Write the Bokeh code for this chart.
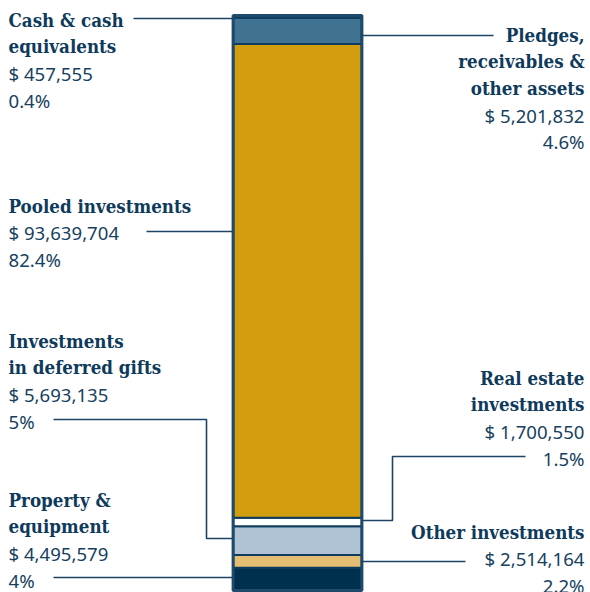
from bokeh.plotting import figure
from bokeh.models import Range1d, ColumnDataSource
from bokeh.core.properties import value
from bokeh.embed import file_html
from bokeh.resources import INLINE

# ---- data (stack order from bottom to top) ----
categories = ["Property & equipment", "Other investments", "Investments in deferred gifts",
              "Real estate investments", "Pooled investments",
              "Pledges, receivables & other assets", "Cash & cash equivalents"]
amounts = [4495579, 2514164, 5693135, 1700550, 93639704, 5201832, 457555]
percent_labels = ["4%", "2.2%", "5%", "1.5%", "82.4%", "4.6%", "0.4%"]
amount_labels = ["$ 4,495,579", "$ 2,514,164", "$ 5,693,135", "$ 1,700,550",
                 "$ 93,639,704", "$ 5,201,832", "$ 457,555"]
title_lines = [["Property &", "equipment"], ["Other investments"],
               ["Investments", "in deferred gifts"], ["Real estate", "investments"],
               ["Pooled investments"], ["Pledges,", "receivables &", "other assets"],
               ["Cash & cash", "equivalents"]]
colors = ["#00304f", "#e4be72", "#b0c3d5", "#ffffff", "#d29d0e", "#3f7391", "#f1e7cd"]

# ---- layout (in reference-pixel layout units) ----
NAVY = "#0e3a5b"
LINE = "#1d4464"
BAR_L, BAR_R = 233, 361
BAR_TOP_PX, BAR_BOT_PX = 15, 590
Y_TOP, Y_BOT = 0, 592

total = float(sum(amounts))
span = BAR_BOT_PX - BAR_TOP_PX
val_start = -(Y_BOT - BAR_BOT_PX) / span * total
val_end = (BAR_BOT_PX - Y_TOP) / span * total

p = figure(width=590, height=592, output_backend="svg", toolbar_location=None,
           x_range=Range1d(0, 590), y_range=Range1d(Y_BOT, Y_TOP),
           min_border=0, outline_line_color=None)
p.axis.visible = False
p.grid.visible = False
p.extra_y_ranges = {"val": Range1d(val_start, val_end)}

bottoms, tops = [], []
acc = 0.0
for a in amounts:
    bottoms.append(acc)
    acc += a
    tops.append(acc)

src = ColumnDataSource(dict(bottom=bottoms, top=tops, color=colors,
                            left=[BAR_L] * len(amounts), right=[BAR_R] * len(amounts)))
p.quad(left="left", right="right", bottom="bottom", top="top", fill_color="color",
       line_color="#0f3c5e", line_width=2.0, source=src, y_range_name="val")
p.quad(left=[BAR_L - 0.5], right=[BAR_R + 0.5], bottom=[0], top=[total], fill_color=None,
       line_color="#1f4a6c", line_width=2.8, y_range_name="val")

# ---- leader lines ----
leaders_x = [[133, BAR_L], [BAR_R, 493], [146, BAR_L],
             [53, 206, 206, BAR_L], [525, 392, 392, BAR_R],
             [BAR_R, 465], [53, BAR_L]]
leaders_y = [[18, 18], [35, 35], [231, 231],
             [419, 419, 538, 538], [456, 456, 520, 520],
             [561, 561], [577, 577]]
p.multi_line(xs=leaders_x, ys=leaders_y, line_color=LINE, line_width=1.6)

# ---- labels ----
# (index into data, x, align, baseline of first line)
label_pos = {6: (8, "left", 25), 4: (8, "left", 211), 2: (8, "left", 346), 0: (8, "left", 505),
             5: (584, "right", 40), 3: (584, "right", 383), 1: (584, "right", 537)}
LINE_H = 26.7
SHIFT = -5.5

bx, by, bt, ba = [], [], [], []
rx, ry, rt, ra = [], [], [], []
for i, (x, align, y0) in label_pos.items():
    y = y0 + SHIFT
    for t in title_lines[i]:
        bx.append(x); by.append(y); bt.append(t); ba.append(align)
        y += LINE_H
    for t in (amount_labels[i], percent_labels[i]):
        rx.append(x); ry.append(y); rt.append(t); ra.append(align)
        y += LINE_H

p.text(x="x", y="y", text="text", text_align="align",
       source=ColumnDataSource(dict(x=bx, y=by, text=bt, align=ba)),
       text_font=value("DejaVu Serif Condensed"), text_font_style="bold",
       text_font_size="18.6px", text_color=NAVY, text_baseline="alphabetic")
p.text(x="x", y="y", text="text", text_align="align",
       source=ColumnDataSource(dict(x=rx, y=ry, text=rt, align=ra)),
       text_font=value("Noto Sans"), text_font_size="18.6px",
       text_color="#163f60", text_baseline="alphabetic")

open("out.html", "w").write(file_html(p, INLINE))
